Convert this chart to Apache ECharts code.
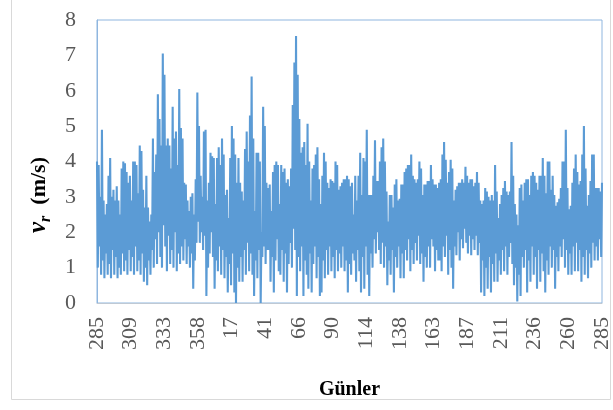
<!DOCTYPE html>
<html>
<head>
<meta charset="utf-8">
<script src="https://cdn.jsdelivr.net/npm/echarts@6/dist/echarts.min.js"></script>
<style>html,body{margin:0;padding:0;background:#fff}#c{width:613px;height:410px}</style>
</head>
<body>
<div id="c"></div>
<script>
// Day-of-year tick labels (x axis)
const dayLabels = ['285','309','333','358','17','41','66','90','114','138','163','187','211','236','260','285'];
const yTicks = [0,1,2,3,4,5,6,7,8];

const seg1 = [4.0,1.0,3.9,1.6,3.0,0.8,4.9,1.2,2.9,0.7,2.5,1.4,2.8,0.8,3.6,1.1,4.1,0.7,3.0,1.5,3.2,0.8,2.9,1.3,3.3,0.7,2.9,1.0,2.5,0.8,3.8,1.4,4.0,0.9,3.95,1.2,3.7,0.8,3.4,1.5,3.6,0.9,2.9,1.3,4.0,0.8,4.0,1.6,3.9,0.9,3.1,1.2,4.45,0.8,4.3,1.4,3.2,0.6,2.7,1.0,3.6,0.5,2.7,1.2,2.3,0.8,2.5,1.5,4.65,1.0,3.7,1.8,4.2,1.1,5.9,2.0,5.2,1.3,4.45,1.0,7.05,2.2,6.45,1.6,4.45,0.9,4.65,1.9,4.45,1.1,3.8,1.5,5.55,1.0,4.65,2.0,4.85,0.9,3.9,1.4,6.05,1.1,4.95,1.6];
const seg2 = [4.65,1.2,3.4,1.8,3.35,1.1,2.9,1.6,2.6,1.0,3.0,1.4,3.1,0.4,2.5,1.2,3.5,1.7,5.95,2.3,5.0,1.7,3.6,2.0,3.0,1.5,4.85,1.9,4.9,0.2,2.9,1.0,3.4,1.4,4.25,2.0,4.15,1.3,4.1,0.4,2.8,1.2,4.1,0.9,4.4,1.6,3.9,0.8,4.65,1.5,4.2,0.7,3.05,1.3,3.2,0.3,2.4,1.1,4.1,0.5,5.0,1.4,4.65,0.3,4.2,0.0,3.4,1.0,4.1,0.6,3.4,1.3,3.15,0.6,2.9,1.5,4.35,0.8,4.85,1.7,4.0,0.9,5.3,1.4,6.4,0.8,4.65,0.2,2.6,1.2,4.25,0.7,4.25,1.5,4.0,0.0,2.0,1.3,5.55,1.6,5.0,1.1,3.4,1.5];
const seg3 = [3.25,1.5,3.35,0.6,2.6,1.3,3.7,0.3,3.9,1.2,4.0,1.8,3.9,0.9,2.8,0.8,3.9,1.5,3.7,0.6,3.8,1.4,3.4,0.3,3.5,1.1,3.3,1.7,3.8,1.0,5.6,2.1,6.8,1.5,7.55,0.2,6.45,1.3,5.2,0.9,4.25,1.6,4.4,0.2,4.55,1.2,3.9,0.8,5.07,0.4,4.0,1.4,2.9,0.3,3.8,1.1,3.9,1.6,4.2,0.7,4.4,1.3,3.5,0.2,2.8,0.3,3.6,1.2,4.25,0.7,4.0,1.5,3.4,0.8,3.25,1.6,3.5,0.9,3.45,1.3,3.4,0.7,4.0,1.5,3.9,0.9,3.2,1.4,3.3,1.0,3.4,1.6,3.5,0.9,3.5,1.2,3.6,0.3,3.5,1.1,3.3,0.8,3.4,1.4];
const seg4 = [2.5,1.2,3.6,0.6,2.9,1.5,3.6,0.9,4.25,0.3,3.05,1.3,4.1,0.4,4.0,1.6,4.9,0.8,3.05,0.2,3.05,1.4,3.05,1.0,3.6,1.8,4.6,1.4,3.45,2.0,3.45,1.5,4.0,1.1,4.4,1.7,4.65,1.0,4.0,1.6,3.15,0.5,2.3,1.2,3.05,0.8,3.05,1.5,2.7,0.3,3.35,1.3,3.5,1.0,2.9,1.6,2.95,0.7,3.35,1.4,3.35,0.7,3.7,1.5,3.8,1.2,3.9,1.8,3.9,0.9,4.2,1.5,3.6,1.1,3.5,1.7,3.4,1.2,3.5,1.9,4.0,1.1,3.8,1.4,3.05,0.6,3.35,1.3,3.35,1.0,3.45,1.6,3.45,1.0,3.9,1.8,3.5,1.6,3.35,0.9,3.35,1.5,3.25,1.2];
const seg5 = [3.4,1.2,3.5,0.9,4.2,1.6,4.55,1.3,4.05,1.9,3.4,0.8,3.7,1.5,4.05,1.0,3.8,0.4,2.9,1.6,3.2,1.35,3.3,2.0,3.4,1.2,3.4,1.8,3.5,1.55,3.4,2.1,3.85,1.7,3.6,1.4,3.4,1.9,3.5,1.35,3.5,1.8,3.3,1.5,3.4,1.9,3.7,1.35,3.4,1.7,2.9,0.3,2.8,1.2,2.9,0.2,3.25,1.0,3.15,0.4,3.0,1.3,2.9,0.3,3.05,1.1,2.9,0.6,3.9,1.4,3.15,0.6,2.4,1.2,2.8,0.8,3.05,1.5,3.25,0.9,3.45,1.6,3.15,0.8,3.05,1.3,3.15,1.7,4.55,1.1,3.6,0.5,2.8,1.0,2.5,0.04,2.2,0.8,3.25,0.2,3.35,1.3,2.9,1.0];
const seg6 = [3.4,1.5,3.5,0.3,3.5,1.2,3.05,0.6,3.6,1.6,3.7,0.8,3.6,1.3,3.4,0.4,3.2,1.5,3.6,0.6,3.6,1.4,4.1,0.9,3.6,0.3,3.1,1.2,4.0,0.8,4.0,1.6,3.2,1.0,3.6,1.5,3.05,0.4,2.75,1.3,2.85,0.9,2.95,1.6,3.25,1.3,4.0,1.8,4.0,1.0,4.9,1.5,3.25,0.8,2.65,1.4,2.75,0.8,3.4,1.6,3.8,0.9,4.2,1.7,3.7,0.9,3.35,1.5,3.45,0.6,4.2,1.3,5.0,0.8,3.8,1.5,2.75,0.7,3.05,1.4,3.45,1.0,4.2,1.7,4.2,1.2,3.25,1.6,3.25,1.2,3.25,1.8,3.15,1.3,3.4];

const speeds = [].concat(seg1, seg2, seg3, seg4, seg5, seg6);
const span = dayLabels.length - 1;
const seriesData = speeds.map((v, i) => [i * span / (speeds.length - 1), v]);

const serif = "'Liberation Serif','Times New Roman',serif";
const chart = echarts.init(document.getElementById('c'), null, {renderer: 'canvas'});
chart.setOption({
  animation: false,
  backgroundColor: '#fff',
  grid: {left: 97, right: 7, top: 20, bottom: 107, show: true, borderColor: '#8fb6df', borderWidth: 1, backgroundColor: 'transparent'},
  xAxis: {
    type: 'value', min: 0, max: span, interval: 1,
    axisLine: {show: true, lineStyle: {color: '#bfc9d4', width: 1}},
    axisTick: {show: false},
    splitLine: {show: false},
    axisLabel: {rotate: 90, margin: 14, fontSize: 22, fontFamily: serif, color: '#595959',
      formatter: v => dayLabels[Math.round(v)] || ''},
    name: 'Günler', nameLocation: 'middle', nameGap: 77,
    nameTextStyle: {fontFamily: serif, fontWeight: 'bold', fontSize: 20, color: '#000'}
  },
  yAxis: {
    type: 'value', min: yTicks[0], max: yTicks[yTicks.length - 1], interval: 1,
    axisLine: {show: true, lineStyle: {color: '#8fb6df'}},
    axisTick: {show: false},
    splitLine: {show: false},
    axisLabel: {margin: 21, fontSize: 22, fontFamily: serif, color: '#595959'}
  },
  graphic: [
    {type: 'rect', shape: {x: 11.5, y: -1, width: 599, height: 400.5}, style: {fill: 'none', stroke: '#d9d9d9', lineWidth: 1}, silent: true, z: -10},
    {type: 'text', x: 40, y: 195, rotation: Math.PI / 2,
      style: {
        text: '{v|v}{r|r}{u|  (m/s)}',
        align: 'center', verticalAlign: 'middle',
        rich: {
          v: {fontFamily: serif, fontStyle: 'italic', fontWeight: 'bold', fontSize: 25, fill: '#000', verticalAlign: 'top'},
          r: {fontFamily: serif, fontStyle: 'italic', fontWeight: 'bold', fontSize: 16, fill: '#000', verticalAlign: 'top', padding: [12, 0, 0, 0]},
          u: {fontFamily: serif, fontWeight: 'bold', fontSize: 22, fill: '#000', verticalAlign: 'top', padding: [2, 0, 0, 0]}
        }
      }
    }
  ],
  series: [{
    type: 'line', data: seriesData, showSymbol: false, symbol: 'none',
    lineStyle: {color: '#5b9bd5', width: 2.1}, sampling: null, z: 3
  }]
});
</script>
</body>
</html>
